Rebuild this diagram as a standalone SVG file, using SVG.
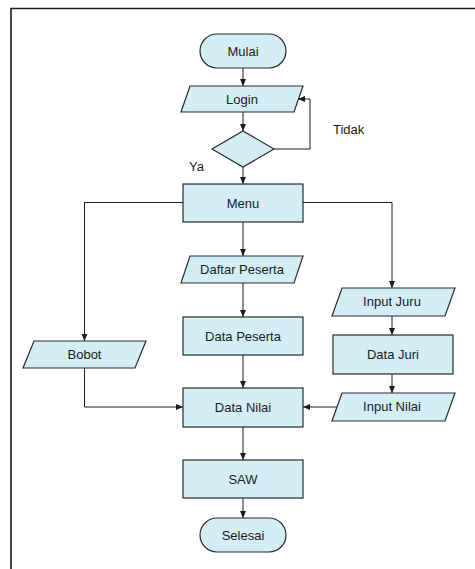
<svg xmlns="http://www.w3.org/2000/svg" width="475" height="569" viewBox="0 0 475 569">
<defs>
<style>
.s{fill:#d4eef8;stroke:#2a2a2a;stroke-width:1.2}
.t{font-family:"Liberation Sans",Arial,sans-serif;font-size:13px;fill:#1a1a1a;text-anchor:middle}
.l{font-family:"Liberation Sans",Arial,sans-serif;font-size:13px;fill:#1a1a1a}
.c{fill:none;stroke:#1a1a1a;stroke-width:1}
</style>
<marker id="a" markerWidth="8" markerHeight="8" refX="7" refY="4" orient="auto" markerUnits="userSpaceOnUse">
<path d="M0,1 L7,4 L0,7 Z" fill="#1a1a1a"/>
</marker>
</defs>
<rect width="475" height="569" fill="#fff"/>
<path d="M11,569 V8.5 H475" fill="none" stroke="#1a1a1a" stroke-width="1.6"/>
<g id="connectors">
<path class="c" d="M243,68 V86" marker-end="url(#a)"/>
<path class="c" d="M243,112 V131" marker-end="url(#a)"/>
<path class="c" d="M274,149 H310 V99 H298" marker-end="url(#a)"/>
<path class="c" d="M243,167 V184" marker-end="url(#a)"/>
<path class="c" d="M183,202.5 H84.5 V341" marker-end="url(#a)"/>
<path class="c" d="M303,202.5 H392 V288" marker-end="url(#a)"/>
<path class="c" d="M243,222 V256" marker-end="url(#a)"/>
<path class="c" d="M243,283 V317" marker-end="url(#a)"/>
<path class="c" d="M392,316 V335" marker-end="url(#a)"/>
<path class="c" d="M392,374 V393" marker-end="url(#a)"/>
<path class="c" d="M243,355 V388" marker-end="url(#a)"/>
<path class="c" d="M84.5,368 V407 H183" marker-end="url(#a)"/>
<path class="c" d="M337,407 H303" marker-end="url(#a)"/>
<path class="c" d="M243,427 V460" marker-end="url(#a)"/>
<path class="c" d="M243,498 V518" marker-end="url(#a)"/>
</g>
<text class="l" x="333" y="134">Tidak</text>
<text class="l" x="189" y="171">Ya</text>
<g id="mulai"><rect class="s" x="200" y="34" width="86" height="34" rx="17"/><text class="t" x="243" y="55.5">Mulai</text></g>
<g id="login"><path class="s" d="M190,86 H303 L294,112 H181 Z"/><text class="t" x="242" y="103.5">Login</text></g>
<g id="decision"><path class="s" d="M243,131 L274,149 L243,167 L212,149 Z"/></g>
<g id="menu"><rect class="s" x="183" y="184" width="120" height="38"/><text class="t" x="243" y="207.5">Menu</text></g>
<g id="daftar-peserta"><path class="s" d="M190,256 H303 L294,283 H181 Z"/><text class="t" x="242" y="274">Daftar Peserta</text></g>
<g id="data-peserta"><rect class="s" x="183" y="317" width="120" height="38"/><text class="t" x="243" y="340.5">Data Peserta</text></g>
<g id="input-juru"><path class="s" d="M342,288 H455 L445,316 H332 Z"/><text class="t" x="392" y="306">Input Juru</text></g>
<g id="data-juri"><rect class="s" x="333" y="335" width="120" height="39"/><text class="t" x="393" y="359">Data Juri</text></g>
<g id="bobot"><path class="s" d="M34,341 H146 L135,368 H23 Z"/><text class="t" x="84.5" y="359">Bobot</text></g>
<g id="data-nilai"><rect class="s" x="183" y="388" width="120" height="39"/><text class="t" x="243" y="411.5">Data Nilai</text></g>
<g id="input-nilai"><path class="s" d="M342,393 H455 L445,421 H332 Z"/><text class="t" x="392" y="411">Input Nilai</text></g>
<g id="saw"><rect class="s" x="183" y="460" width="120" height="38"/><text class="t" x="243" y="483.5">SAW</text></g>
<g id="selesai"><rect class="s" x="200" y="518" width="86" height="34" rx="17"/><text class="t" x="243" y="539.5">Selesai</text></g>
</svg>
